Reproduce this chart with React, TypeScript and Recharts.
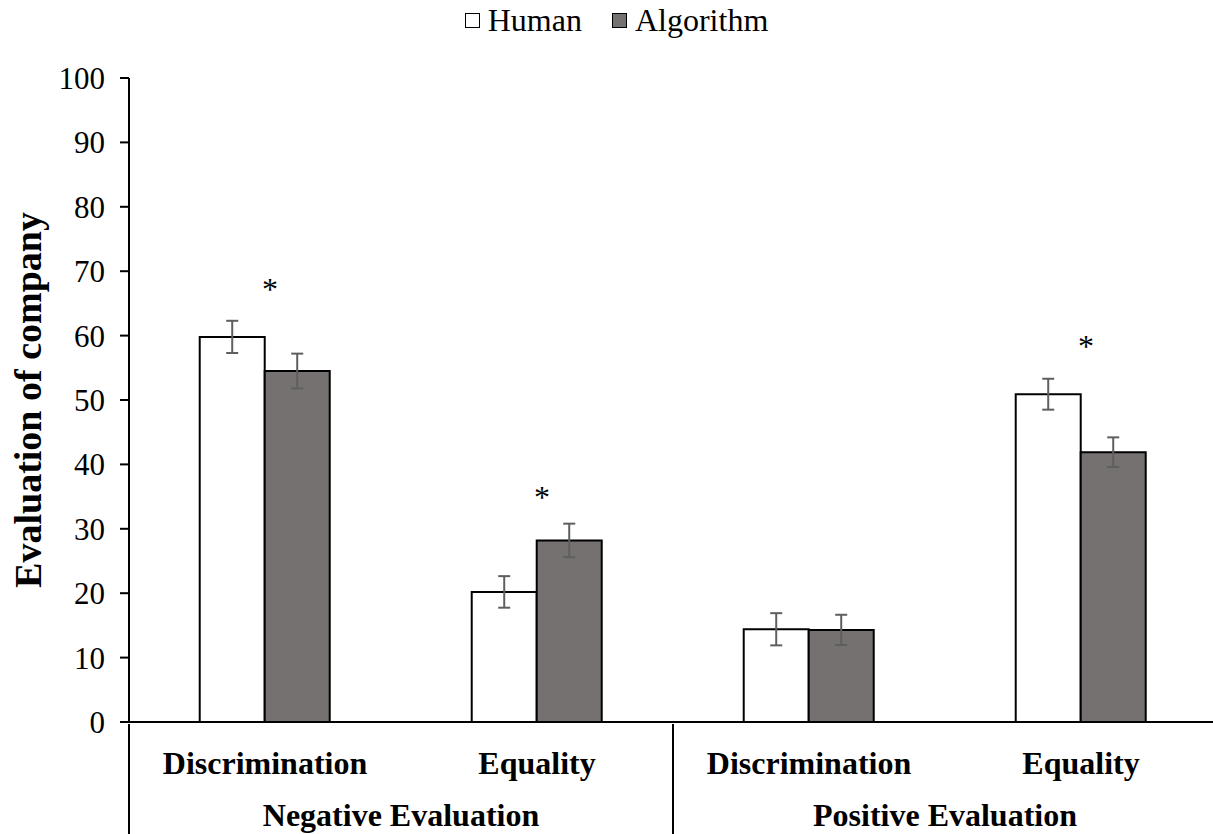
import { ComposedChart, Bar, Line, XAxis, YAxis, ErrorBar, Legend } from 'recharts';

const categories = ['Discrimination', 'Equality', 'Discrimination', 'Equality'];
const groups = ['Negative Evaluation', 'Negative Evaluation', 'Positive Evaluation', 'Positive Evaluation'];
const human = [59.8, 20.2, 14.4, 50.9];
const humanErr = [2.5, 2.45, 2.5, 2.4];
const algorithm = [54.5, 28.2, 14.3, 41.9];
const algorithmErr = [2.7, 2.6, 2.35, 2.3];
const stars = [67.6, 35.2, null, 58.7];
const yTicks = [0, 10, 20, 30, 40, 50, 60, 70, 80, 90, 100];

const data = categories.map((category, i) => ({
  category,
  group: groups[i],
  human: human[i],
  humanErr: humanErr[i],
  algorithm: algorithm[i],
  algorithmErr: algorithmErr[i],
  star: stars[i],
}));

const FONT = '"Liberation Serif", "Times New Roman", serif';
const ALGO_FILL = '#767171';
const ERR_COLOR = '#5f5f5f';

function CategoryTick(props: any) {
  const { x, y, payload, index } = props;
  const half = payload.offset ?? 0;
  const isGroupStart = index === 0 || groups[index] !== groups[index - 1];
  const count = groups.filter((g) => g === groups[index]).length;
  return (
    <g>
      <text x={x} y={y + 50} textAnchor="middle" fontFamily={FONT} fontWeight="bold" fontSize={32} fill="#000">
        {payload.value}
      </text>
      {isGroupStart && (
        <>
          <line x1={x - half} y1={y} x2={x - half} y2={y + 112} stroke="#000" strokeWidth={2} />
          <text x={x - half + count * half} y={y + 102} textAnchor="middle" fontFamily={FONT} fontWeight="bold" fontSize={32} fill="#000">
            {groups[index]}
          </text>
        </>
      )}
    </g>
  );
}

function Star(props: any) {
  const { cx, cy, value } = props;
  if (value == null) return <g key={props.index} />;
  return (
    <text key={props.index} x={cx + 5} y={cy + 13} textAnchor="middle" fontFamily={FONT} fontSize={32} fill="#000">
      *
    </text>
  );
}

function YTitle(props: any) {
  const { viewBox } = props;
  const cx = viewBox.x + 28;
  const cy = viewBox.y + viewBox.height / 2;
  return (
    <text
      x={cx}
      y={cy}
      transform={`rotate(-90, ${cx}, ${cy})`}
      textAnchor="middle"
      dominantBaseline="central"
      fontFamily={FONT}
      fontWeight="bold"
      fontSize={38}
      fill="#000"
    >
      Evaluation of company
    </text>
  );
}

function LegendContent() {
  const items = [
    { name: 'Human', fill: '#fff' },
    { name: 'Algorithm', fill: ALGO_FILL },
  ];
  return (
    <div style={{ display: 'flex', justifyContent: 'center', paddingLeft: 20, fontFamily: FONT, fontSize: 32, lineHeight: '40px' }}>
      {items.map((it, i) => (
        <div key={it.name} style={{ display: 'flex', alignItems: 'center', marginLeft: i ? 30 : 0 }}>
          <span style={{ width: 13, height: 13, border: '1.5px solid #000', background: it.fill, marginRight: 8 }} />
          <span>{it.name}</span>
        </div>
      ))}
    </div>
  );
}

export default function App() {
  return (
    <div style={{ position: 'absolute', left: 0, top: 0, width: 1213, height: 834, overflow: 'hidden', background: '#fff' }}>
      <ComposedChart
        width={1217}
        height={834}
        data={data}
        margin={{ top: 78, right: 0, bottom: 0, left: 0 }}
        barGap={0}
        barCategoryGap="26%"
      >
        <Legend
          layout="horizontal"
          verticalAlign="middle"
          align="center"
          content={<LegendContent />}
          wrapperStyle={{ top: 0, left: 0, width: 1213 }}
        />
        <XAxis
          dataKey="category"
          interval={0}
          height={112}
          tickSize={0}
          tickLine={false}
          axisLine={{ stroke: '#000', strokeWidth: 2 }}
          tick={<CategoryTick />}
        />
        <YAxis
          domain={[0, 100]}
          ticks={yTicks}
          width={129}
          tickSize={9}
          tickMargin={15}
          axisLine={{ stroke: '#000', strokeWidth: 2 }}
          tickLine={{ stroke: '#000', strokeWidth: 2 }}
          tick={{ fill: '#000', fontSize: 31, fontFamily: FONT }}
          label={<YTitle />}
        />
        <Bar dataKey="human" name="Human" fill="#fff" stroke="#000" strokeWidth={2} isAnimationActive={false}>
          <ErrorBar dataKey="humanErr" width={6} stroke={ERR_COLOR} strokeWidth={2} direction="y" />
        </Bar>
        <Bar dataKey="algorithm" name="Algorithm" fill={ALGO_FILL} stroke="#000" strokeWidth={2} isAnimationActive={false}>
          <ErrorBar dataKey="algorithmErr" width={6} stroke={ERR_COLOR} strokeWidth={2} direction="y" />
        </Bar>
        <Line dataKey="star" stroke="none" dot={<Star />} activeDot={false} legendType="none" isAnimationActive={false} />
      </ComposedChart>
    </div>
  );
}
